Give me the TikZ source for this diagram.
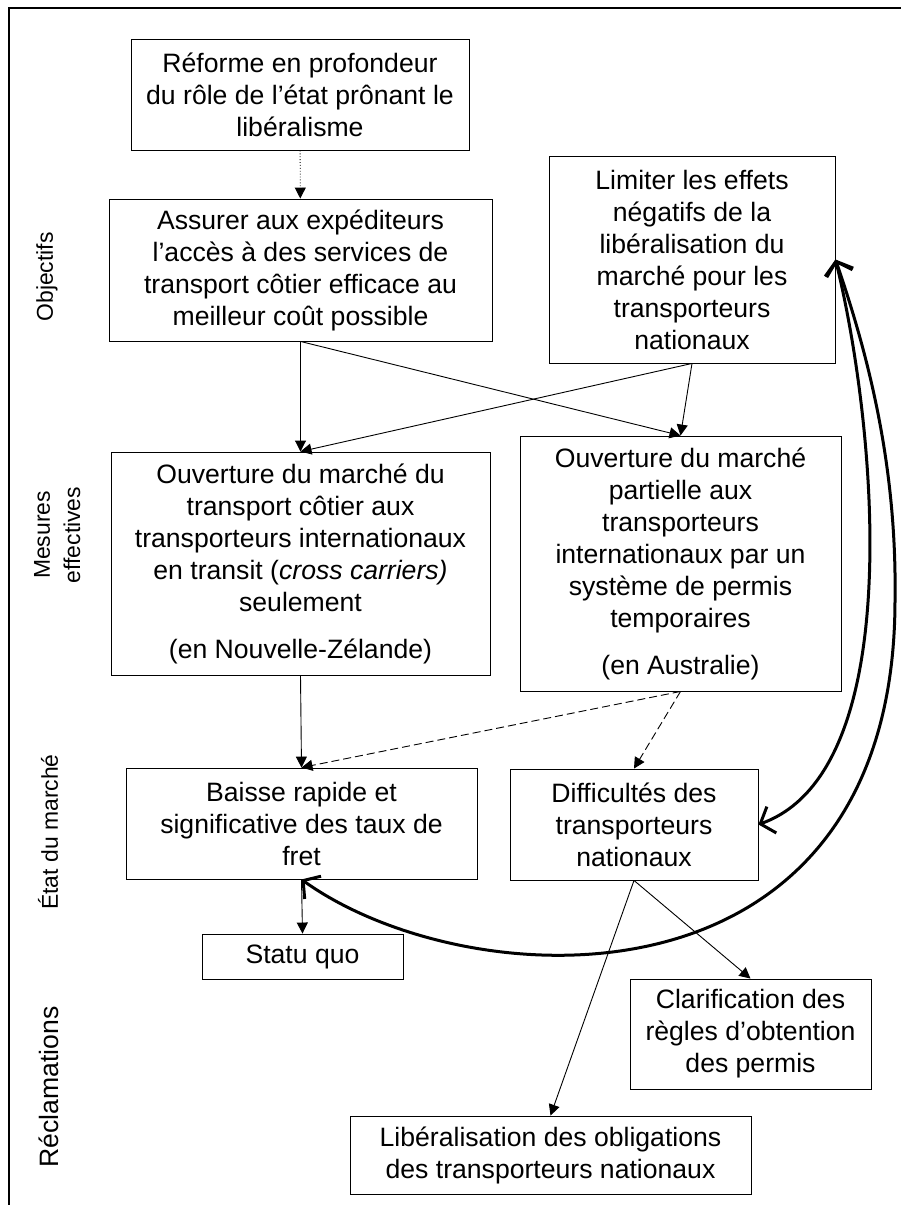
\documentclass[tikz,border=0pt]{standalone}
\usepackage{fontspec}
\setmainfont{Liberation Sans}
\usetikzlibrary{arrows.meta}

\tikzset{
  box/.style={draw, line width=0.9pt, align=center, inner sep=0pt,
    font=\fontsize{26.6pt}{32pt}\selectfont},
  flow/.style={line width=0.9pt, -{Triangle[length=11pt,width=11pt]}},
  feedback/.style={line width=3pt,
    {Straight Barb[length=12pt,width=28pt]}-{Straight Barb[length=12pt,width=28pt]}},
  lane/.style={rotate=90, inner sep=0pt, font=\fontsize{22.9pt}{31pt}\selectfont},
}

\begin{document}
\begin{tikzpicture}[x=1pt,y=-1pt]
  \useasboundingbox (0,0) rectangle (901,1205);
  % Frame (top and left only)
  \draw[line width=1.5pt] (901,8) -- (9,8) -- (9,1205);
  % Row labels
  \node[lane] (objlbl) at (47,277) {Objectifs};
  \node[lane] (meslbl) at (42,535) {Mesures};
  \node[lane] (efflbl) at (72,535) {effectives};
  \node[lane] (etatlbl) at (48,832) {État du marché};
  \node[lane, font=\fontsize{26.6pt}{32pt}\selectfont] (recllbl) at (49,1087) {Réclamations};
  % Objectives
  \node[box, minimum width=338, minimum height=111] (reforme) at (300,94.5)
    {Réforme en profondeur\\du rôle de l’état prônant le\\libéralisme};
  \node[box, minimum width=383, minimum height=142] (assurer) at (300.5,270)
    {Assurer aux expéditeurs\\l’accès à des services de\\transport côtier efficace au\\meilleur coût possible};
  \node[box, minimum width=286, minimum height=207] (limiter) at (692,259.5)
    {Limiter les effets\\négatifs de la\\libéralisation du\\marché pour les\\transporteurs\\nationaux};
  % Measures
  \node[box, minimum width=379, minimum height=223] (ouvnz) at (300.5,563.5)
    {Ouverture du marché du\\transport côtier aux\\transporteurs internationaux\\en transit (\textit{cross carriers)}\\seulement\\[15pt](en Nouvelle-Zélande)};
  \node[box, minimum width=321, minimum height=255] (ouvau) at (680.5,563.5)
    {Ouverture du marché\\partielle aux\\transporteurs\\internationaux par un\\système de permis\\temporaires\\[15pt](en Australie)};
  % Market state
  \node[box, minimum width=351, minimum height=111] (baisse) at (301.5,823.5)
    {Baisse rapide et\\significative des taux de\\fret};
  \node[box, minimum width=248, minimum height=111] (diffic) at (634,824.5)
    {Difficultés des\\transporteurs\\nationaux};
  % Claims
  \node[box, minimum width=201, minimum height=45] (statu) at (302.5,956.5) {Statu quo};
  \node[box, minimum width=241, minimum height=110] (clarif) at (750.5,1034)
    {Clarification des\\règles d’obtention\\des permis};
  \node[box, minimum width=401, minimum height=78] (liberal) at (550.5,1155)
    {Libéralisation des obligations\\des transporteurs nationaux};
  % Links
  \draw[flow, dotted] (reforme) -- (assurer);
  \draw[flow] (assurer.south) -- (ouvnz.north);
  \draw[flow] (assurer.south) -- (ouvau.north);
  \draw[flow] (limiter.south) -- (ouvau.north);
  \draw[flow] (limiter.south) -- (ouvnz.north);
  \draw[flow] (ouvnz.south) -- (baisse.north);
  \draw[flow, dash pattern=on 8pt off 4pt] (ouvau.south) -- (baisse.north);
  \draw[flow, dash pattern=on 8pt off 4pt] (ouvau.south) -- (diffic.north);
  \draw[flow] (baisse.south) -- (statu.north);
  \draw[flow] (diffic.south) -- (clarif.north);
  \draw[flow] (diffic.south) -- (liberal.north);
  % Feedback loops
  \coordinate (bend) at (895,600);
  \draw[feedback] (limiter.east) .. controls (875,420) and (910,770) .. (diffic.east);
  \draw[feedback] (baisse.south) .. controls (470,1000) and (895,1020) .. (bend)
    .. controls (897,470) and (870,360) .. (limiter.east);
\end{tikzpicture}
\end{document}
